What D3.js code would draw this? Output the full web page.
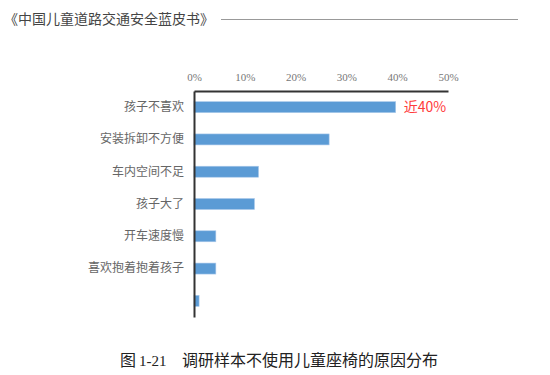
<!DOCTYPE html>
<html>
<head>
<meta charset="utf-8">
<script src="https://cdn.jsdelivr.net/npm/d3@7"></script>
<style>
  body { margin: 0; background: #fff; }
  svg { display: block; }
  .cat { font-family: "Liberation Serif", "Noto Sans CJK SC", serif; font-size: 12px; fill: #666; }
  .tick { font-family: "Liberation Serif", "Noto Sans CJK SC", serif; font-size: 11px; fill: #777; }
</style>
</head>
<body>
<div id="chart"></div>
<script>
// data
const categories = ['孩子不喜欢', '安装拆卸不方便', '车内空间不足', '孩子大了', '开车速度慢', '喜欢抱着抱着孩子', ''];
const shares = [39.7, 26.6, 12.7, 11.9, 4.3, 4.3, 1.0];
const tickValues = [0, 10, 20, 30, 40, 50];
const noteText = '近40%';

const W = 550, H = 375;
const margin = {left: 194, right: 102, top: 91, bottom: 58};

const svg = d3.select('#chart').append('svg')
  .attr('width', W)
  .attr('height', H);

// header
svg.append('text')
  .attr('x', 4)
  .attr('y', 24)
  .attr('font-family', '"Noto Sans CJK SC", sans-serif')
  .attr('font-size', 14)
  .attr('fill', '#444')
  .text('《中国儿童道路交通安全蓝皮书》');
svg.append('line')
  .attr('x1', 221).attr('x2', 518)
  .attr('y1', 19.5).attr('y2', 19.5)
  .attr('stroke', '#999')
  .attr('stroke-width', 1);

var x = d3.scaleLinear()
  .domain([0, 50])
  .range([margin.left, W - margin.right]);

var y = d3.scaleBand()
  .domain(d3.range(categories.length))
  .range([margin.top, H - margin.bottom])
  .paddingInner(0.66)
  .paddingOuter(0.33);

// bars
svg.append('g').selectAll('rect')
  .data(shares)
  .enter()
  .append('rect')
  .attr('x', x(0))
  .attr('y', function (d, i) { return y(i); })
  .attr('width', function (d) { return x(d) - x(0); })
  .attr('height', y.bandwidth())
  .attr('fill', '#5b9bd5')
  .attr('stroke', '#a9c8ea')
  .attr('stroke-width', 0.6);

// top axis
var xAxis = d3.axisTop(x)
  .tickValues(tickValues)
  .tickFormat(function (d) { return d + '%'; })
  .tickSize(0)
  .tickPadding(10);

var gx = svg.append('g')
  .attr('transform', 'translate(0,' + margin.top + ')')
  .call(xAxis);
gx.select('.domain').attr('stroke', '#333').attr('stroke-width', 2);
gx.selectAll('text').attr('class', 'tick').attr('font-family', null).attr('font-size', null);

// left axis
var yAxis = d3.axisLeft(y)
  .tickFormat(function (i) { return categories[i]; })
  .tickSize(0)
  .tickPadding(10);

var gy = svg.append('g')
  .attr('transform', 'translate(' + margin.left + ',0)')
  .call(yAxis);
gy.select('.domain').attr('stroke', '#333').attr('stroke-width', 2);
gy.selectAll('text').attr('class', 'cat').attr('font-family', null).attr('font-size', null);

// note on top bar
svg.append('text')
  .attr('x', x(shares[0]) + 8)
  .attr('y', y(0) + y.bandwidth() / 2)
  .attr('dy', '0.36em')
  .attr('font-family', '"Noto Sans CJK SC", sans-serif')
  .attr('font-size', 14)
  .attr('fill', '#ff3b3b')
  .text(noteText);

// caption
var cap = svg.append('text')
  .attr('y', 366)
  .attr('font-family', '"Liberation Serif", "Noto Sans CJK SC", serif')
  .attr('font-size', 15)
  .attr('fill', '#222');
cap.append('tspan').attr('x', 120).attr('font-size', 16).text('图');
cap.append('tspan').attr('x', 139).text('1-21');
cap.append('tspan').attr('x', 182).attr('font-size', 16).text('调研样本不使用儿童座椅的原因分布');
</script>
</body>
</html>
